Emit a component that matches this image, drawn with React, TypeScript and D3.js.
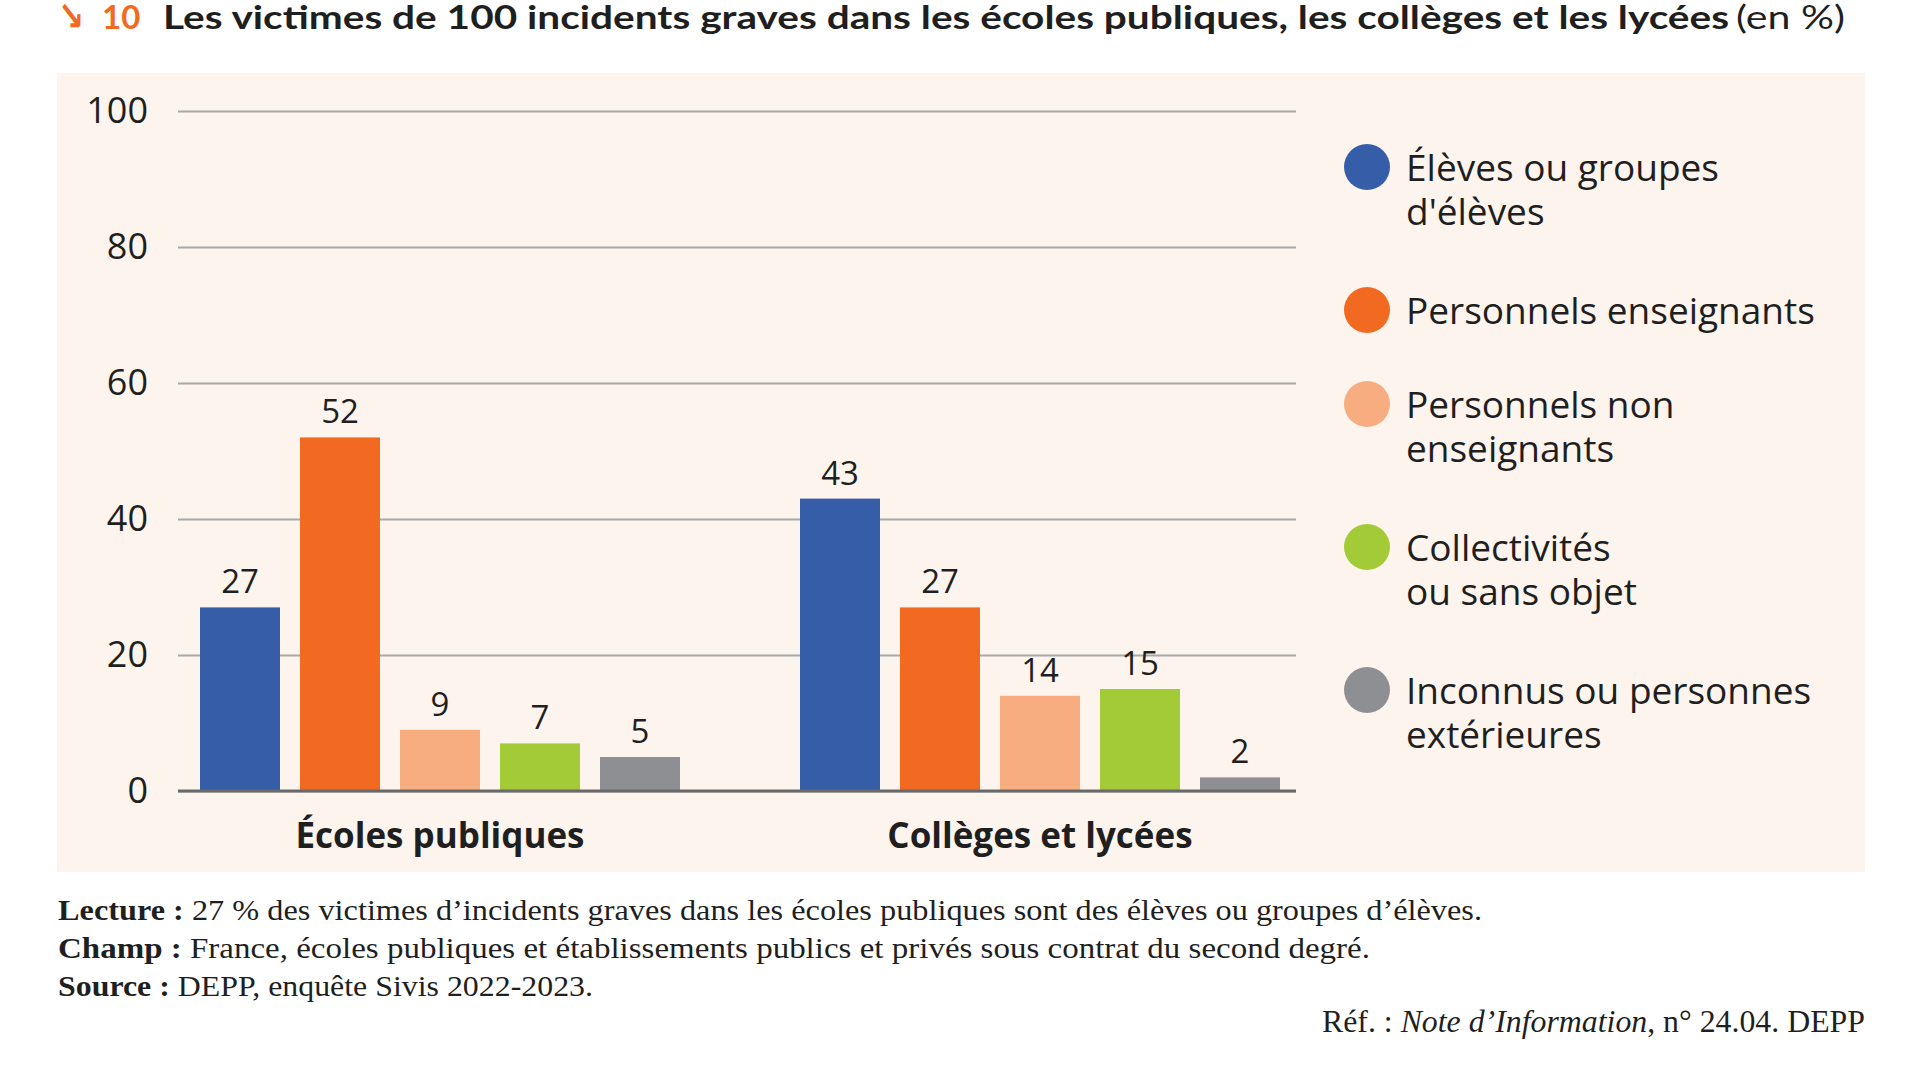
import React from 'react';
import { useRef, useEffect } from 'react';
import * as d3 from 'd3';

// Data (en %)
const groups = ["Écoles publiques", "Collèges et lycées"];
const seriesNames = [
  "Élèves ou groupes d'élèves",
  "Personnels enseignants",
  "Personnels non enseignants",
  "Collectivités ou sans objet",
  "Inconnus ou personnes extérieures",
];
// legend labels, wrapped as in the picture
const legendLines = [
  ["Élèves ou groupes", "d'élèves"],
  ["Personnels enseignants"],
  ["Personnels non", "enseignants"],
  ["Collectivités", "ou sans objet"],
  ["Inconnus ou personnes", "extérieures"],
];
const ecolesValues = [27, 52, 9, 7, 5];
const collegesValues = [43, 27, 14, 15, 2];
const yTicks = [0, 20, 40, 60, 80, 100];

const chartStyle = {
  panelFill: "#fdf4ee",
  textColor: "#1f1f1f",
  gridColor: "#a8a8a8",
  zeroColor: "#6a6a6a",
  accent: "#f26a21",
  sansFont: "'Open Sans', Lato, sans-serif",
  titleFont: "Lato, 'Open Sans', sans-serif",
  serifFont: "'Liberation Serif', 'DejaVu Serif', serif",
  colors: ["#365da8", "#f26a21", "#f8ad80", "#a3cb38", "#8e8f92"],
};

const width = 1924;
const height = 1082;

const App: React.FC = () => {
  const svgRef = useRef<SVGSVGElement>(null);

  useEffect(() => {
    if (!svgRef.current) return;

    const svg = d3.select(svgRef.current);
    svg.selectAll("*").remove();

    const plot = { left: 178, right: 1296, top: 111, bottom: 791 };

    // background panel
    svg.append("rect")
      .attr("x", 57).attr("y", 73)
      .attr("width", 1808).attr("height", 799)
      .attr("fill", chartStyle.panelFill);

    // title
    const title = svg.append("g").attr("font-family", chartStyle.titleFont);
    title.append("text")
      .attr("x", 58).attr("y", 30)
      .attr("font-family", "'DejaVu Sans', sans-serif")
      .attr("font-size", 40)
      .attr("font-weight", "bold")
      .attr("fill", chartStyle.accent)
      .attr("textLength", 26).attr("lengthAdjust", "spacingAndGlyphs")
      .text("↘");
    title.append("text")
      .attr("x", 102).attr("y", 29)
      .attr("font-size", 33).attr("font-weight", "bold")
      .attr("fill", chartStyle.accent)
      .text("10");
    title.append("text")
      .attr("x", 163).attr("y", 29)
      .attr("font-size", 33).attr("font-weight", "bold")
      .attr("fill", chartStyle.textColor)
      .attr("textLength", 1566).attr("lengthAdjust", "spacingAndGlyphs")
      .text("Les victimes de 100 incidents graves dans les écoles publiques, les collèges et les lycées");
    title.append("text")
      .attr("x", 1736).attr("y", 29)
      .attr("font-size", 33)
      .attr("fill", chartStyle.textColor)
      .attr("textLength", 109).attr("lengthAdjust", "spacingAndGlyphs")
      .text("(en %)");

    const yScale = d3.scaleLinear()
      .domain([0, 100])
      .range([plot.bottom, plot.top]);

    const xGroup = d3.scaleBand<string>()
      .domain(groups)
      .range([140, 1340]);

    const xSeries = d3.scaleBand<string>()
      .domain(seriesNames)
      .range([60, 540])
      .paddingInner(0.2);

    const color = d3.scaleOrdinal<string, string>()
      .domain(seriesNames)
      .range(chartStyle.colors);

    // y axis + gridlines
    const yAxis = d3.axisLeft<number>(yScale)
      .tickValues(yTicks)
      .tickFormat(d => `${d}`)
      .tickSize(-(plot.right - plot.left))
      .tickPadding(30);

    const yG = svg.append("g")
      .attr("class", "y-axis")
      .attr("transform", `translate(${plot.left},0)`)
      .call(yAxis)
      .call(g => g.select(".domain").remove());

    yG.selectAll(".tick line")
      .attr("stroke", chartStyle.gridColor)
      .attr("stroke-width", 2);

    yG.selectAll(".tick text")
      .attr("font-family", chartStyle.sansFont)
      .attr("font-size", 36)
      .attr("fill", chartStyle.textColor);

    // bars
    const rows = [ecolesValues, collegesValues];
    const barData = groups.flatMap((g, gi) =>
      seriesNames.map((s, si) => ({ group: g, series: s, value: rows[gi][si] }))
    );

    const bars = svg.append("g").attr("class", "bars");
    bars.selectAll("rect")
      .data(barData)
      .join("rect")
      .attr("x", d => xGroup(d.group)! + xSeries(d.series)!)
      .attr("y", d => yScale(d.value))
      .attr("width", xSeries.bandwidth())
      .attr("height", d => yScale(0) - yScale(d.value))
      .attr("fill", d => color(d.series));

    bars.selectAll("text")
      .data(barData)
      .join("text")
      .attr("x", d => xGroup(d.group)! + xSeries(d.series)! + xSeries.bandwidth() / 2)
      .attr("y", d => yScale(d.value) - 14)
      .attr("text-anchor", "middle")
      .attr("font-family", chartStyle.sansFont)
      .attr("font-size", 33)
      .attr("fill", chartStyle.textColor)
      .text(d => d.value);

    // zero baseline on top of bars
    svg.append("line")
      .attr("x1", plot.left).attr("x2", plot.right)
      .attr("y1", yScale(0)).attr("y2", yScale(0))
      .attr("stroke", chartStyle.zeroColor)
      .attr("stroke-width", 3);

    // category labels
    svg.append("g")
      .selectAll("text")
      .data(groups)
      .join("text")
      .attr("x", d => xGroup(d)! + xGroup.bandwidth() / 2)
      .attr("y", 848)
      .attr("text-anchor", "middle")
      .attr("font-family", chartStyle.sansFont)
      .attr("font-size", 35)
      .attr("font-weight", 700)
      .attr("fill", chartStyle.textColor)
      .text(d => d);

    // legend
    const legend = svg.append("g")
      .attr("font-family", chartStyle.sansFont)
      .attr("font-size", 37)
      .attr("fill", chartStyle.textColor);
    let ly = 167;
    seriesNames.forEach((s, i) => {
      const item = legend.append("g").attr("transform", `translate(1367,${ly})`);
      item.append("circle").attr("r", 23).attr("fill", color(s));
      const t = item.append("text").attr("x", 39).attr("y", 14);
      legendLines[i].forEach((line, li) => {
        t.append("tspan").attr("x", 39).attr("dy", li === 0 ? 0 : 44).text(line);
      });
      ly += 45 + 49 * legendLines[i].length;
    });

    // notes
    const notes = svg.append("g")
      .attr("font-family", chartStyle.serifFont)
      .attr("font-size", 29)
      .attr("fill", chartStyle.textColor);

    const noteLines = [
      { label: "Lecture :", body: " 27 % des victimes d’incidents graves dans les écoles publiques sont des élèves ou groupes d’élèves.", y: 920, len: 1424 },
      { label: "Champ :", body: " France, écoles publiques et établissements publics et privés sous contrat du second degré.", y: 958, len: 1312 },
      { label: "Source :", body: " DEPP, enquête Sivis 2022-2023.", y: 996, len: 535 },
    ];
    noteLines.forEach(n => {
      const t = notes.append("text")
        .attr("x", 58).attr("y", n.y)
        .attr("textLength", n.len).attr("lengthAdjust", "spacingAndGlyphs");
      t.append("tspan").attr("font-weight", "bold").text(n.label);
      t.append("tspan").text(n.body);
    });

    const ref = notes.append("text")
      .attr("x", 1322).attr("y", 1032)
      .attr("font-size", 31)
      .attr("textLength", 543).attr("lengthAdjust", "spacingAndGlyphs");
    ref.append("tspan").text("Réf. : ");
    ref.append("tspan").attr("font-style", "italic").text("Note d’Information");
    ref.append("tspan").text(", n° 24.04. DEPP");
  }, []);

  return (
    <div style={{ position: "fixed", left: 0, top: 0 }}>
      <svg ref={svgRef} width={width} height={height} style={{ display: "block", background: "#fff" }} />
    </div>
  );
};

export default App;
